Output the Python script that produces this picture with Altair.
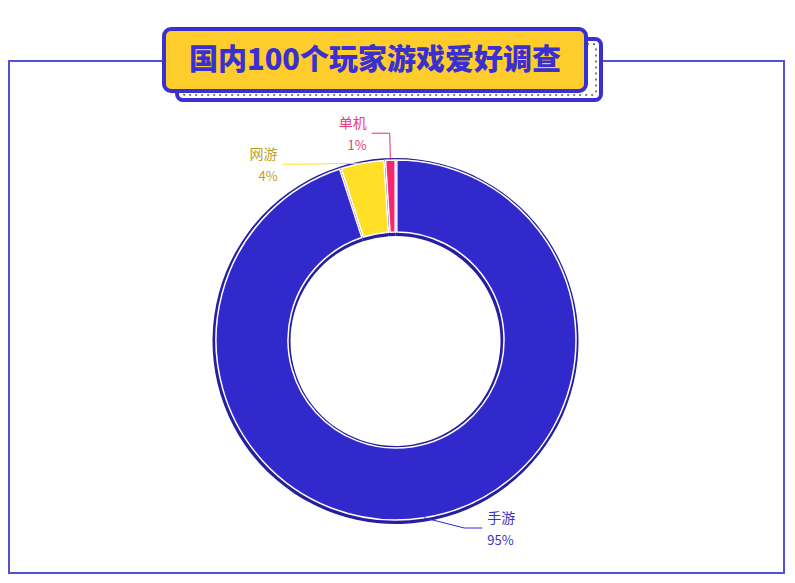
import altair as alt
import pandas as pd

# ---- data ----
categories = ["手游", "网游", "单机"]
values = [95, 4, 1]
slice_colors = ["#3129cc", "#ffe027", "#f7276f"]
label_colors = ["#3a32c8", "#bda11f", "#ec3a7a"]
title_text = "国内100个玩家游戏爱好调查"

df = pd.DataFrame({
    "cat": categories,
    "value": values,
    "idx": list(range(len(categories))),
    "tcolor": label_colors,
})
deco = pd.DataFrame({"t": [title_text]})

# ---- layout constants ----
W, H = 779, 567
CX, CY = 388, 332
R_OUT, R_IN = 180, 108
R_LAB = 200
L2 = 18
GAP = 31
Y_MAX = CY + 188
FONT = "Noto Sans CJK SC"
BLUE = "#3a2fd0"

color_scale = alt.Scale(domain=categories, range=slice_colors)
base = alt.Chart(df)
dbase = alt.Chart(deco)

frame = dbase.mark_rect(filled=False, stroke="#5650d8", strokeWidth=2).encode(
    x=alt.value(1), x2=alt.value(776), y=alt.value(53), y2=alt.value(565))

rear_box = dbase.mark_rect(fill="white", stroke=BLUE, strokeWidth=4, cornerRadius=6).encode(
    x=alt.value(169), x2=alt.value(593), y=alt.value(31), y2=alt.value(92))
rear_dash = dbase.mark_rect(filled=False, stroke="#555555", strokeWidth=1.5,
                            strokeDash=[2, 4], cornerRadius=3).encode(
    x=alt.value(174), x2=alt.value(588), y=alt.value(36), y2=alt.value(87))
front_box = dbase.mark_rect(fill="#ffcd2b", stroke=BLUE, strokeWidth=4, cornerRadius=7).encode(
    x=alt.value(156), x2=alt.value(578), y=alt.value(21), y2=alt.value(83))
title = dbase.mark_text(font=FONT, fontSize=29, fontWeight=900, color=BLUE,
                        align="center", baseline="middle").encode(
    text="t:N", x=alt.value(367), y=alt.value(53))

shadow = base.mark_arc(innerRadius=R_IN - 3, outerRadius=R_OUT + 3, color="#261e9e").encode(
    theta=alt.Theta("value:Q", stack=True),
    order=alt.Order("idx:Q"),
    x=alt.value(CX - 0.5), y=alt.value(CY + 1))

slices = base.mark_arc(innerRadius=R_IN, outerRadius=R_OUT, stroke="white",
                       strokeWidth=1.5, padAngle=0.008).encode(
    theta=alt.Theta("value:Q", stack=True),
    color=alt.Color("cat:N", scale=color_scale, legend=None),
    order=alt.Order("idx:Q"),
    x=alt.value(CX), y=alt.value(CY))

lab = base.transform_joinaggregate(total="sum(value)").transform_window(
    cum="sum(value)", sort=[alt.SortField("idx")], frame=[None, 0]
).transform_calculate(
    a="(datum.cum - datum.value/2)/datum.total*2*PI"
).transform_calculate(
    sgn="sin(datum.a) >= 0 ? 1 : -1",
    p0x=f"{CX} + {R_OUT}*sin(datum.a)",
    p0y=f"{CY} - {R_OUT}*cos(datum.a)",
    nx=f"{CX} + {R_LAB}*sin(datum.a)",
    ny=f"{CY} - {R_LAB}*cos(datum.a)",
    pct="format(datum.value/datum.total, '.0%')",
).transform_window(
    prev="lag(ny)", nxt="lead(ny)", groupby=["sgn"], sort=[alt.SortField("ny")]
).transform_calculate(
    dp=f"isValid(datum.prev) ? max(0, {GAP} - (datum.ny - datum.prev)) : 0",
    dn=f"isValid(datum.nxt) ? max(0, {GAP} - (datum.nxt - datum.ny)) : 0",
).transform_calculate(
    ly=f"min({Y_MAX}, datum.ny + 0.75*datum.dp - 0.25*datum.dn)"
).transform_calculate(
    d2=f"{R_LAB}*{R_LAB} - (datum.ly-{CY})*(datum.ly-{CY})"
).transform_calculate(
    ex=f"datum.d2 > 0 ? {CX} + datum.sgn*sqrt(datum.d2) : datum.nx"
).transform_calculate(
    p2x=f"datum.ex + datum.sgn*{L2}"
).transform_calculate(
    tx="datum.p2x + datum.sgn*5"
)

seg1 = lab.mark_rule(strokeWidth=1).encode(
    x=alt.X("p0x:Q", scale=None), y=alt.Y("p0y:Q", scale=None),
    x2="ex:Q", y2="ly:Q",
    color=alt.Color("cat:N", scale=color_scale, legend=None))
seg2 = lab.mark_rule(strokeWidth=1).encode(
    x=alt.X("ex:Q", scale=None), y=alt.Y("ly:Q", scale=None),
    x2="p2x:Q", y2="ly:Q",
    color=alt.Color("cat:N", scale=color_scale, legend=None))


def texts(side, align):
    sub = lab.transform_filter(f"datum.sgn == {side}")
    name = sub.mark_text(font=FONT, fontSize=14, align=align, baseline="middle", dy=-9).encode(
        x=alt.X("tx:Q", scale=None), y=alt.Y("ly:Q", scale=None),
        text="cat:N", fill=alt.Fill("tcolor:N", scale=None))
    pct = sub.mark_text(font=FONT, fontSize=13, align=align, baseline="middle", dy=13).encode(
        x=alt.X("tx:Q", scale=None), y=alt.Y("ly:Q", scale=None),
        text="pct:N", fill=alt.Fill("tcolor:N", scale=None))
    return [name, pct]


layers = [frame, rear_box, rear_dash, front_box, title, shadow, slices, seg1, seg2] \
    + texts(1, "left") + texts(-1, "right")

chart = alt.layer(*layers).properties(
    width=W, height=H, padding=0, autosize=alt.AutoSizeParams(type="none")
).configure_view(stroke=None)

chart.save("out.html", embed_options={"renderer": "svg", "actions": False})
